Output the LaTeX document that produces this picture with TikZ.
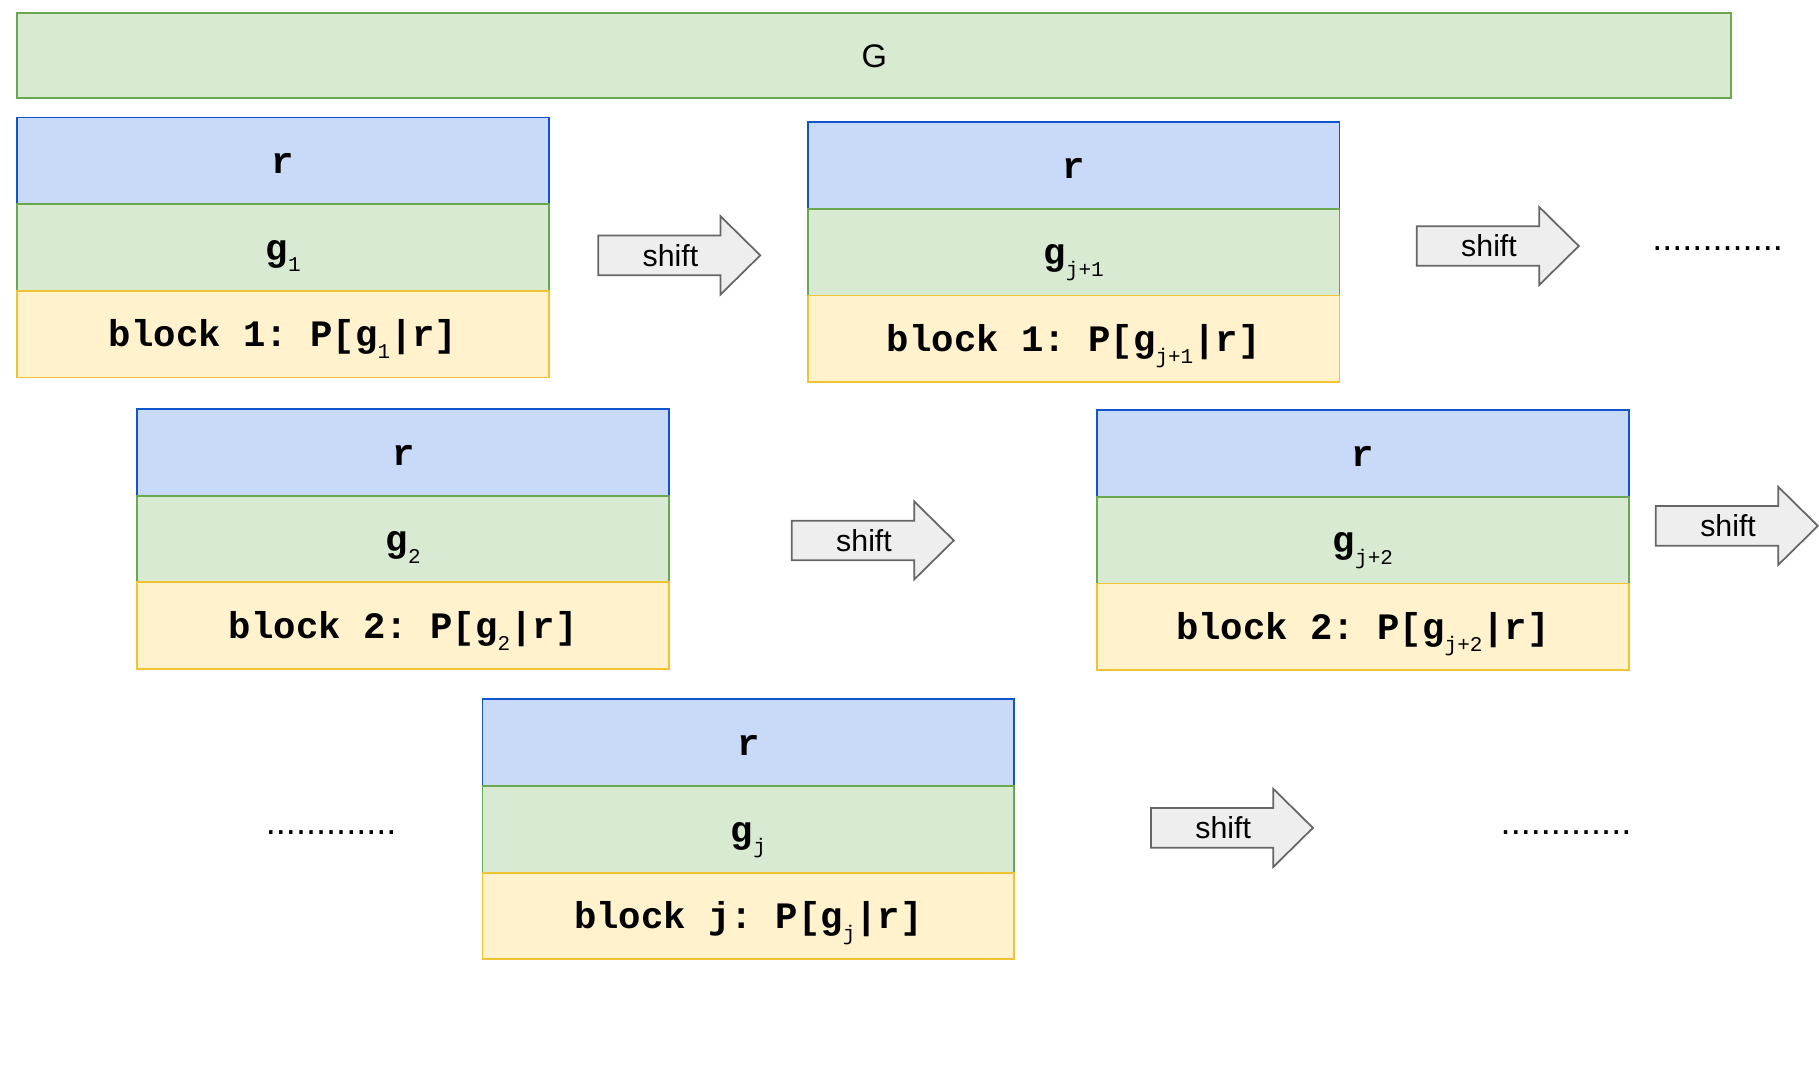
\documentclass[tikz,border=0pt]{standalone}
\usepackage{fontspec}
\setmainfont{Liberation Sans}
\setmonofont{Liberation Mono}
\definecolor{rfill}{HTML}{C9DAF8}
\definecolor{rline}{HTML}{1155CC}
\definecolor{gfill}{HTML}{D9EAD3}
\definecolor{gline}{HTML}{6AA84F}
\definecolor{pfill}{HTML}{FFF2CC}
\definecolor{pline}{HTML}{F1C232}
\definecolor{afill}{HTML}{EEEEEE}
\definecolor{aline}{HTML}{666666}
\newcommand{\subsc}[1]{\raisebox{-10pt}{\fontsize{18}{18}\selectfont\mdseries #1}}
\tikzset{
  cell/.style={anchor=north west, minimum width=456pt, minimum height=74.3pt, inner sep=0pt, line width=1.6pt,
    text height=22pt, text depth=0pt,
    font=\fontsize{32}{34}\selectfont\ttfamily\bfseries},
  rcell/.style={cell, fill=rfill, draw=rline},
  gcell/.style={cell, fill=gfill, draw=gline},
  pcell/.style={cell, fill=pfill, draw=pline},
  arrowbody/.style={fill=afill, draw=aline, line width=1.5pt},
  shifttext/.style={font=\fontsize{26}{28}\selectfont, inner sep=0pt},
  dotstext/.style={font=\fontsize{31}{32}\selectfont, inner sep=0pt, anchor=base},
  pics/shiftarrow/.style={code={
    \draw[arrowbody] (0,-17) -- (105,-17) -- (105,-33.5) -- (139,0) -- (105,33.5) -- (105,17) -- (0,17) -- cycle;
    \node[shifttext] (-lbl) at (62,0) {shift};
  }}
}
\begin{document}
\begin{tikzpicture}[x=1pt, y=-1pt]
\useasboundingbox (0,0) rectangle (1560,915);
% top G bar
\node[anchor=north west, minimum width=1470pt, minimum height=73pt, inner sep=0pt, line width=1.6pt,
  fill=gfill, draw=gline, text height=22pt, text depth=0pt,
  font=\fontsize{28}{30}\selectfont] (G) at (14,10) {G};
% block 1
\node[rcell] (b1r) at (14,100) {r};
\node[gcell] (b1g) at (14,174.3) {g\subsc{1}};
\node[pcell] (b1p) at (14,248.6) {block 1: P[g\subsc{1}|r]};
% block j+1
\node[rcell] (bkr) at (692,104) {r};
\node[gcell] (bkg) at (692,178.3) {g\subsc{j+1}};
\node[pcell] (bkp) at (692,252.6) {block 1: P[g\subsc{j+1}|r]};
% block 2
\node[rcell] (b2r) at (117,350) {r};
\node[gcell] (b2g) at (117,424.3) {g\subsc{2}};
\node[pcell] (b2p) at (117,498.6) {block 2: P[g\subsc{2}|r]};
% block j+2
\node[rcell] (blr) at (940,351) {r};
\node[gcell] (blg) at (940,425.3) {g\subsc{j+2}};
\node[pcell] (blp) at (940,499.6) {block 2: P[g\subsc{j+2}|r]};
% block j
\node[rcell] (bjr) at (413,599) {r};
\node[gcell] (bjg) at (413,673.3) {g\subsc{j}};
\node[pcell] (bjp) at (413,747.6) {block j: P[g\subsc{j}|r]};
% shift arrows
\pic (a1) at (513,219) {shiftarrow};
\pic (a2) at (1215,211) {shiftarrow};
\pic (a3) at (679,463.5) {shiftarrow};
\pic (a4) at (1420,451) {shiftarrow};
\pic (a5) at (987,710) {shiftarrow};
% dots
\node[dotstext] (d1) at (1473,215) {.............};
\node[dotstext] (d2) at (284,716) {.............};
\node[dotstext] (d3) at (1343,716) {.............};
\end{tikzpicture}
\end{document}
